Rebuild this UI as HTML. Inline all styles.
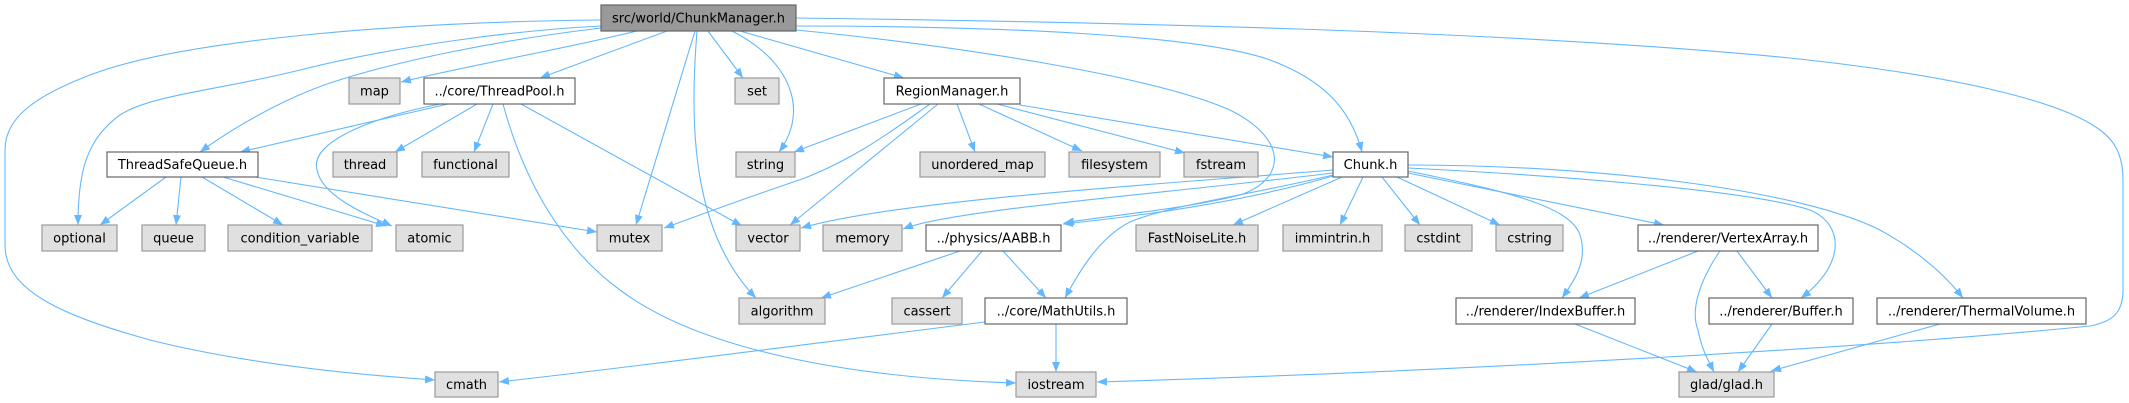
<!DOCTYPE html>
<html><head><meta charset="utf-8"><style>
html,body{margin:0;padding:0;background:#fff;}
svg{display:block;}
text{font-family:"DejaVu Sans","Liberation Sans",sans-serif;font-size:13px;fill:#000;text-anchor:middle;}
.g{fill:#e0e0e0;stroke:#999;stroke-width:1.2;}
.w{fill:#fff;stroke:#666;stroke-width:1.2;}
.r{fill:#999;stroke:#666;stroke-width:1.2;}
path.e{fill:none;stroke:#63b8ff;stroke-width:1.1;marker-end:url(#a);}
</style></head><body>
<svg width="2129" height="403" viewBox="0 0 2129 403" xmlns="http://www.w3.org/2000/svg">
<defs><marker id="a" markerWidth="11" markerHeight="9" refX="10" refY="4" orient="auto" markerUnits="userSpaceOnUse"><path d="M0,0 L10,4 L0,8 z" fill="#63b8ff"/></marker></defs>

<!-- edges from ChunkManager -->
<path class="e" d="M601,20 C400,22 180,40 90,75 C30,98 5,120 5,150 L5,245 C5,290 60,315 150,340 C250,365 360,375 435,380"/>
<path class="e" d="M601,26 C520,30 400,45 300,70 C220,90 150,95 120,115 C85,140 78,175 78,225"/>
<path class="e" d="M601,28 C500,40 400,60 330,83 C280,100 230,130 200,152"/>
<path class="e" d="M637,31 C560,50 470,65 401,82"/>
<path class="e" d="M667,31 L540,78"/>
<path class="e" d="M695,31 L636,225"/>
<path class="e" d="M697,31 C690,120 690,230 756,298"/>
<path class="e" d="M708,31 L743,78"/>
<path class="e" d="M732,31 C790,60 810,110 779,152"/>
<path class="e" d="M740,31 L904,78"/>
<path class="e" d="M796,18 C1100,22 1500,30 1790,58 C1950,75 2060,100 2100,130 C2118,143 2123,160 2123,180 L2123,290 C2123,315 2110,322 2090,326 C1900,345 1500,370 1097,382"/>
<path class="e" d="M796,26 C1000,26 1200,35 1270,60 C1330,82 1352,115 1362,152"/>
<path class="e" d="M796,30 C950,45 1150,75 1230,110 C1290,140 1285,180 1240,195 C1180,210 1110,215 1064,223"/>

<!-- RegionManager -->
<path class="e" d="M921,104 L794,152"/>
<path class="e" d="M930,104 C880,140 850,160 805,178 C740,200 700,215 664,228"/>
<path class="e" d="M938,104 L790,225"/>
<path class="e" d="M957,104 L975,152"/>
<path class="e" d="M979,104 L1082,151"/>
<path class="e" d="M997,104 L1185,153"/>
<path class="e" d="M1020,105 L1333,157"/>

<!-- ThreadPool -->
<path class="e" d="M448,104 L240,152"/>
<path class="e" d="M440,104 C360,120 310,145 317,170 C322,195 360,212 392,226"/>
<path class="e" d="M477,104 L395,152"/>
<path class="e" d="M493,104 L474,152"/>
<path class="e" d="M503,104 C525,185 565,250 620,290 C700,350 850,378 1016,383"/>
<path class="e" d="M521,104 L742,226"/>

<!-- ThreadSafeQueue -->
<path class="e" d="M166,177 L100,225"/>
<path class="e" d="M181,177 L176,225"/>
<path class="e" d="M202,177 L283,225"/>
<path class="e" d="M223,177 L386,226"/>
<path class="e" d="M255,177 L597,232"/>

<!-- AABB -->
<path class="e" d="M960,251 L821,298"/>
<path class="e" d="M982,251 L942,298"/>
<path class="e" d="M1003,251 L1046,298"/>

<!-- Chunk -->
<path class="e" d="M1333,175 C1250,195 1170,205 1130,222 C1100,237 1080,270 1065,298"/>
<path class="e" d="M1333,170 C1150,185 900,200 801,228"/>
<path class="e" d="M1333,173 C1150,195 950,210 903,229"/>
<path class="e" d="M1333,176 C1250,200 1150,215 1063,224"/>
<path class="e" d="M1342,177 L1233,225"/>
<path class="e" d="M1363,177 L1340,225"/>
<path class="e" d="M1382,177 L1420,225"/>
<path class="e" d="M1397,177 L1500,225"/>
<path class="e" d="M1408,173 L1664,225"/>
<path class="e" d="M1408,171 C1500,190 1570,205 1580,235 C1588,260 1575,280 1562,298"/>
<path class="e" d="M1408,168 C1550,175 1750,190 1810,210 C1845,225 1845,265 1801,298"/>
<path class="e" d="M1408,165 C1600,165 1800,190 1880,230 C1920,252 1945,275 1963,298"/>

<!-- VertexArray -->
<path class="e" d="M1698,251 L1579,298"/>
<path class="e" d="M1737,251 L1772,298"/>
<path class="e" d="M1720,251 C1700,280 1690,310 1698,330 C1702,350 1708,360 1714,372"/>

<!-- to glad -->
<path class="e" d="M1575,324 L1697,372"/>
<path class="e" d="M1772,324 L1738,372"/>
<path class="e" d="M1940,324 L1771,371"/>

<!-- MathUtils -->
<path class="e" d="M985,322 C800,345 650,365 499,382"/>
<path class="e" d="M1056,324 L1056,372"/>

<!-- nodes -->
<rect class="r" x="601" y="5" width="195" height="26"/><text x="698.5" y="22.5">src/world/ChunkManager.h</text>

<rect class="g" x="349" y="78" width="51" height="26"/><text x="374.5" y="95.5">map</text>
<rect class="w" x="424" y="78" width="151" height="26"/><text x="499.5" y="95.5">../core/ThreadPool.h</text>
<rect class="g" x="735" y="78" width="44" height="26"/><text x="757" y="95.5">set</text>
<rect class="w" x="884" y="78" width="136" height="26"/><text x="952" y="95.5">RegionManager.h</text>

<rect class="w" x="107" y="152" width="151" height="25"/><text x="182.5" y="169">ThreadSafeQueue.h</text>
<rect class="g" x="333" y="152" width="64" height="25"/><text x="365" y="169">thread</text>
<rect class="g" x="422" y="152" width="87" height="25"/><text x="465.5" y="169">functional</text>
<rect class="g" x="736" y="152" width="59" height="25"/><text x="765.5" y="169">string</text>
<rect class="g" x="920" y="152" width="125" height="25"/><text x="982.5" y="169">unordered_map</text>
<rect class="g" x="1069" y="152" width="91" height="25"/><text x="1114.5" y="169">filesystem</text>
<rect class="g" x="1184" y="152" width="74" height="25"/><text x="1221" y="169">fstream</text>
<rect class="w" x="1333" y="152" width="75" height="25"/><text x="1370.5" y="169">Chunk.h</text>

<rect class="g" x="42" y="225" width="75" height="26"/><text x="79.5" y="242.5">optional</text>
<rect class="g" x="142" y="225" width="63" height="26"/><text x="173.5" y="242.5">queue</text>
<rect class="g" x="228" y="225" width="144" height="26"/><text x="300" y="242.5">condition_variable</text>
<rect class="g" x="396" y="225" width="67" height="26"/><text x="429.5" y="242.5">atomic</text>
<rect class="g" x="597" y="225" width="65" height="26"/><text x="629.5" y="242.5">mutex</text>
<rect class="g" x="736" y="225" width="64" height="26"/><text x="768" y="242.5">vector</text>
<rect class="g" x="823" y="225" width="79" height="26"/><text x="862.5" y="242.5">memory</text>
<rect class="w" x="926" y="225" width="135" height="26"/><text x="993.5" y="242.5">../physics/AABB.h</text>
<rect class="g" x="1136" y="225" width="122" height="26"/><text x="1197" y="242.5">FastNoiseLite.h</text>
<rect class="g" x="1283" y="225" width="99" height="26"/><text x="1332.5" y="242.5">immintrin.h</text>
<rect class="g" x="1405" y="225" width="67" height="26"/><text x="1438.5" y="242.5">cstdint</text>
<rect class="g" x="1496" y="225" width="67" height="26"/><text x="1529.5" y="242.5">cstring</text>
<rect class="w" x="1638" y="225" width="180" height="26"/><text x="1728" y="242.5">../renderer/VertexArray.h</text>

<rect class="g" x="739" y="298" width="86" height="26"/><text x="782" y="315.5">algorithm</text>
<rect class="g" x="892" y="298" width="70" height="26"/><text x="927" y="315.5">cassert</text>
<rect class="w" x="985" y="298" width="142" height="26"/><text x="1056" y="315.5">../core/MathUtils.h</text>
<rect class="w" x="1456" y="298" width="179" height="26"/><text x="1545.5" y="315.5">../renderer/IndexBuffer.h</text>
<rect class="w" x="1709" y="298" width="144" height="26"/><text x="1781" y="315.5">../renderer/Buffer.h</text>
<rect class="w" x="1877" y="298" width="209" height="26"/><text x="1981.5" y="315.5">../renderer/ThermalVolume.h</text>

<rect class="g" x="435" y="372" width="63" height="25"/><text x="466.5" y="389">cmath</text>
<rect class="g" x="1016" y="372" width="80" height="25"/><text x="1056" y="389">iostream</text>
<rect class="g" x="1679" y="372" width="95" height="25"/><text x="1726.5" y="389">glad/glad.h</text>
</svg>
</body></html>
